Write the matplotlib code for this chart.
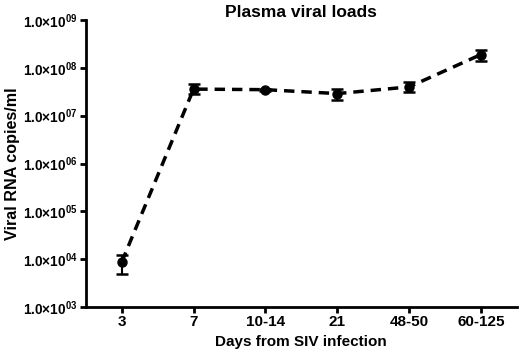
import matplotlib
matplotlib.use("Agg")
import matplotlib.pyplot as plt
import numpy as np

plt.rcParams['font.family'] = ['Liberation Sans', 'DejaVu Sans']
plt.rcParams['font.weight'] = 'bold'
plt.rcParams['mathtext.fontset'] = 'custom'
plt.rcParams['mathtext.rm'] = 'Liberation Sans:bold'
plt.rcParams['mathtext.bf'] = 'Liberation Sans:bold'
plt.rcParams['mathtext.it'] = 'Liberation Sans:bold'

categories = ["3", "7", "10-14", "21", "48-50", "60-125"]
means = [8.7e3, 3.6e7, 3.5e7, 2.9e7, 4.0e7, 1.9e8]
err_low = [4.9e3, 2.8e7, 3.3e7, 2.1e7, 3.2e7, 1.4e8]
err_high = [1.2e4, 4.6e7, 3.7e7, 3.6e7, 5.1e7, 2.4e8]
ytick_vals = [1e3, 1e4, 1e5, 1e6, 1e7, 1e8, 1e9]
ytick_labels = [r"$1.0{\times}10^{%02d}$" % e for e in range(3, 10)]

fig = plt.figure(figsize=(5.2, 3.58), dpi=100)
ax = fig.add_axes([0.165, 0.1425, 0.829, 0.8015])

x = np.arange(len(categories))
m = np.array(means)
yerr = np.vstack([m - np.array(err_low), np.array(err_high) - m])
ax.errorbar(x, m, yerr=yerr, fmt='o', color='black', markersize=6.5,
            capsize=4, elinewidth=1.5, capthick=1.8, zorder=3)
ax.plot(x, m, color='black', linestyle=(0, (3, 2)), linewidth=2.5, zorder=2)

ax.set_yscale('log')
ax.set_ylim(1e3, 1e9)
ax.set_xlim(-0.5, 5.5)
ax.set_yticks(ytick_vals)
ax.set_yticklabels(ytick_labels, fontsize=9.8)
ax.yaxis.set_minor_locator(matplotlib.ticker.NullLocator())
ax.set_xticks(x)
ax.set_xticklabels(categories, fontsize=11, fontweight='bold')

for s in ['top', 'right']:
    ax.spines[s].set_visible(False)
for s in ['left', 'bottom']:
    ax.spines[s].set_linewidth(2)
ax.tick_params(axis='both', width=2, length=4, direction='out', pad=2)

ax.set_title("Plasma viral loads", fontsize=12.5, fontweight='bold', pad=2)
ax.set_xlabel("Days from SIV infection", fontsize=11, fontweight='bold', labelpad=4)
ax.set_ylabel("Viral RNA copies/ml", fontsize=11.6, fontweight='bold')
ax.yaxis.set_label_coords(-0.152, 0.5)

fig.savefig("out.png", dpi=100)
